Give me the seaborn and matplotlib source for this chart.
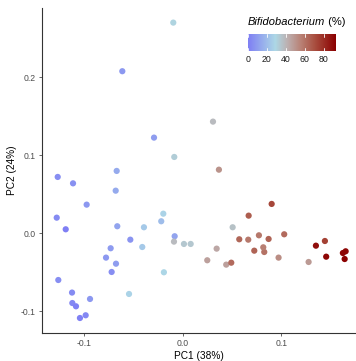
import matplotlib
matplotlib.use("Agg")
import matplotlib.pyplot as plt
import seaborn as sns
import numpy as np
import pandas as pd
from matplotlib.colors import LinearSegmentedColormap, Normalize
from matplotlib.offsetbox import TextArea, HPacker, AnchoredOffsetbox

# PCA scores
pc1 = [-0.0095, -0.0611, -0.029, -0.0085, -0.0668, -0.1265, -0.111, -0.0678,
       -0.0972, -0.1275, -0.1184, -0.0662, -0.053, -0.0729, -0.0776, -0.0675,
       -0.0719, -0.0392, -0.0196, -0.0217, -0.0409, -0.0081, -0.0088, -0.019,
       -0.0543, -0.1259, -0.112, -0.1117, -0.108, -0.0938, -0.0982, -0.104,
       0.0013, 0.0081, 0.0506, 0.0344, 0.0249, 0.0441, 0.0492, 0.0573,
       0.0664, 0.0668, 0.0772, 0.0725, 0.0826, 0.0816, 0.0307, 0.0367,
       0.0901, 0.087, 0.1028, 0.0971, 0.1275, 0.1349, 0.144, 0.1453,
       0.1622, 0.165, 0.164]
pc2 = [0.270, 0.2077, 0.1226, 0.0978, 0.0799, 0.0722, 0.064, 0.0546,
       0.0367, 0.020, 0.0051, 0.009, -0.0082, -0.0192, -0.0312, -0.039,
       -0.0496, 0.0077, 0.0251, 0.0154, -0.0176, -0.0038, -0.0107, -0.050,
       -0.0778, -0.0599, -0.076, -0.0894, -0.0936, -0.0842, -0.1051, -0.1086,
       -0.0137, -0.0137, 0.0077, -0.0197, -0.0346, -0.0402, -0.0377, -0.0077,
       -0.0082, 0.0226, -0.0026, -0.0223, -0.024, -0.018, 0.1431, 0.0815,
       0.0376, -0.0073, -0.0013, -0.0312, -0.0368, -0.0159, -0.0099, -0.030,
       -0.0253, -0.0231, -0.033]
bifido = [30, 8, 10, 32, 14, 5, 6, 14,
          8, 4, 0, 12, 7, 9, 8, 10,
          5, 24, 27, 20, 24, 12, 38, 28,
          27, 5, 4, 3, 1, 8, 3, 1,
          34, 34, 36, 44, 46, 46, 62, 63,
          58, 66, 58, 64, 60, 56, 38, 50,
          72, 64, 62, 52, 48, 88, 74, 90,
          90, 90, 92]

cbar_ticks = [0, 20, 40, 60, 80]

df = pd.DataFrame({"PC1": pc1, "PC2": pc2, "Bifidobacterium": bifido})

sns.set_theme(style="ticks")
plt.rcParams["font.family"] = ["Liberation Sans", "DejaVu Sans"]

cmap = LinearSegmentedColormap.from_list(
    "bifido", [(0.0, "#7f7ff4"), (0.31, "#add8e6"), (0.45, "#bdb0b0"),
               (0.6, "#b98276"), (0.76, "#a94f40"), (1.0, "#8b0000")])
norm = Normalize(vmin=0, vmax=92)

fig = plt.figure(figsize=(3.56, 3.61), dpi=100)
ax = fig.add_axes([0.118, 0.0776, 0.879, 0.9004])

sns.scatterplot(data=df, x="PC1", y="PC2", hue="Bifidobacterium",
                palette=cmap, hue_norm=norm, s=20, linewidth=0,
                legend=False, ax=ax)

ax.set_xlim(-0.1424, 0.1744)
ax.set_ylim(-0.1278, 0.2888)
ax.set_xticks([-0.1, 0.0, 0.1])
ax.set_yticks([-0.1, 0.0, 0.1, 0.2])
ax.set_xticklabels(["-0.1", "0.0", "0.1"])
ax.set_yticklabels(["-0.1", "0.0", "0.1", "0.2"])
ax.set_xlabel("PC1 (38%)", fontsize=7.3, color="black", labelpad=2)
ax.set_ylabel("PC2 (24%)", fontsize=7.3, color="black", labelpad=3)
ax.tick_params(axis="both", labelsize=6.2, colors="#4d4d4d", length=2.5,
               width=0.6, pad=2)
for side in ["top", "right"]:
    ax.spines[side].set_visible(False)
for side in ["left", "bottom"]:
    ax.spines[side].set_color("#333333")
    ax.spines[side].set_linewidth(0.8)

# colour bar in the top right corner
cax = fig.add_axes([0.6966, 0.8579, 0.2452, 0.0488])
grad = np.linspace(0, 92, 256).reshape(1, -1)
cax.imshow(grad, aspect="auto", cmap=cmap, norm=norm, extent=[0, 92, 0, 1])
for t in cbar_ticks:
    cax.plot([t, t], [0, 0.18], color="white", lw=0.6)
    cax.plot([t, t], [0.82, 1], color="white", lw=0.6)
cax.set_xlim(0, 92)
cax.set_ylim(0, 1)
cax.set_yticks([])
cax.set_xticks(cbar_ticks)
cax.set_xticklabels([str(t) for t in cbar_ticks])
cax.tick_params(axis="x", length=0, labelsize=6.3, colors="#1a1a1a", pad=3)
for sp in cax.spines.values():
    sp.set_visible(False)

# legend title: italic genus name + plain unit
title = HPacker(children=[
    TextArea("Bifidobacterium", textprops=dict(fontsize=8, style="italic",
                                                 color="black")),
    TextArea(" (%)", textprops=dict(fontsize=8, color="black")),
], align="baseline", pad=0, sep=0)
box = AnchoredOffsetbox(loc="lower left", child=title, pad=0, borderpad=0,
                        frameon=False, bbox_to_anchor=(0.695, 0.925),
                        bbox_transform=fig.transFigure)
fig.add_artist(box)

fig.savefig("out.png", dpi=100)
